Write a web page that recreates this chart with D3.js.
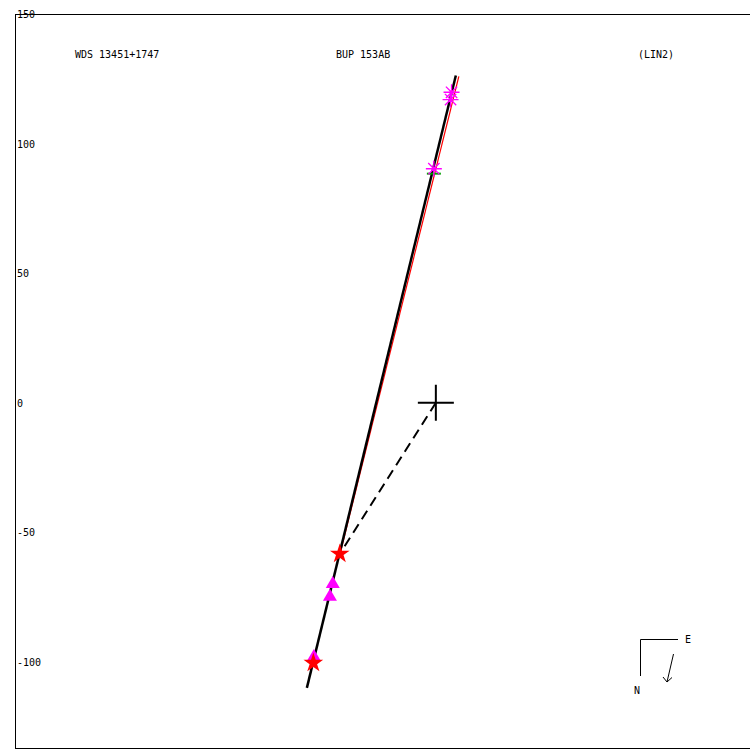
<!DOCTYPE html>
<html><head><meta charset="utf-8">
<script src="https://cdn.jsdelivr.net/npm/d3@7"></script>
<style>body{margin:0;background:#fff}svg{display:block}text{font-family:"DejaVu Sans Mono",monospace;font-size:10px;fill:#000}</style>
</head><body>
<script>
// Data (arcsec-like units, origin = primary)
const yTicks = [150, 100, 50, 0, -50, -100];
const titles = ["WDS 13451+1747", "BUP 153AB", "(LIN2)"];
const asterisks = [[6.06, 119.8], [5.68, 117.0], [-0.77, 90.3]];
const greenMarks = [[-0.77, 88.4]];
const stars = [[-37.1, -58.3], [-47.3, -100.4]];
const triangles = [[-39.8, -69.5], [-40.9, -74.5], [-47.1, -97.7]];
const blackLine = [[7.72, 126.3], [-49.8, -110.0]];
const redLine = [[8.88, 125.9], [-36.7, -57.1]];
const dashedLine = [[0, 0], [-37.1, -58.3]];
const origin = [0, 0];

const W = 750, H = 750;
const svg = d3.select("body").append("svg").attr("width", W).attr("height", H);
const x = d3.scaleLinear().domain([-162.5, 121.3]).range([15, 750]);
const y = d3.scaleLinear().domain([-133.2, 150]).range([748, 14]);

// frame
svg.append("path").attr("d", `M${x(121.3)+5},${y(150)}H${x(-162.5)}V${y(-133.2)}H${x(121.3)+5}`)
  .attr("fill", "none").attr("stroke", "#000").attr("stroke-width", 1).attr("shape-rendering", "crispEdges");

// y tick labels
svg.selectAll("text.tick").data(yTicks).join("text")
  .attr("x", 17).attr("y", d => y(d) + 4).text(d => d);

// titles
const titleX = [75, 336, 638];
svg.selectAll("text.title").data(titles).join("text")
  .attr("x", (d, i) => titleX[i]).attr("y", 58).text(d => d);

const line = d3.line().x(d => x(d[0])).y(d => y(d[1]));

svg.append("path").attr("d", line(redLine)).attr("stroke", "#ff0000").attr("stroke-width", 1.2).attr("fill", "none");
svg.append("path").attr("d", line(blackLine)).attr("stroke", "#000").attr("stroke-width", 2.5).attr("fill", "none");
svg.append("path").attr("d", line(dashedLine)).attr("stroke", "#000").attr("stroke-width", 2).attr("stroke-dasharray", "10,6").attr("fill", "none");

// cross at origin
const ox = x(origin[0]), oy = y(origin[1]);
svg.append("path").attr("d", `M${ox-18},${oy}H${ox+18}M${ox},${oy-18}V${oy+18}`).attr("stroke", "#000").attr("stroke-width", 2);

// green marks
svg.selectAll("path.g").data(greenMarks).join("path")
  .attr("d", d => `M${x(d[0])-7},${y(d[1])}H${x(d[0])+7}`).attr("stroke", "#00a000").attr("stroke-width", 2);

// asterisks
const astD = d3.range(8).map(i => { const a = i * Math.PI / 4; return `M0,0L${8*Math.cos(a)},${8*Math.sin(a)}`; }).join("");
svg.selectAll("path.ast").data(asterisks).join("path")
  .attr("transform", d => `translate(${x(d[0])},${y(d[1])})`).attr("d", astD)
  .attr("stroke", "#ff00ff").attr("stroke-width", 1.3).attr("fill", "none");

// triangles
svg.selectAll("path.tri").data(triangles).join("path")
  .attr("transform", d => `translate(${x(d[0])},${y(d[1])})`)
  .attr("d", "M0,-7L7,5L-7,5Z").attr("fill", "#ff00ff");

// stars
const starPath = d3.symbol(d3.symbolStar, 120)();
svg.selectAll("path.star").data(stars).join("path")
  .attr("transform", d => `translate(${x(d[0])},${y(d[1])})`)
  .attr("d", starPath).attr("fill", "#ff0000");

// compass
const c = svg.append("g").attr("stroke", "#000").attr("fill", "none").attr("stroke-width", 1);
c.append("path").attr("d", "M678,639.5H640.5V676");
c.append("path").attr("d", "M673.5,654L667,682M663,677L667,682L672,677.5");
svg.append("text").attr("x", 685).attr("y", 643).text("E");
svg.append("text").attr("x", 634).attr("y", 694).text("N");
</script>
</body></html>
